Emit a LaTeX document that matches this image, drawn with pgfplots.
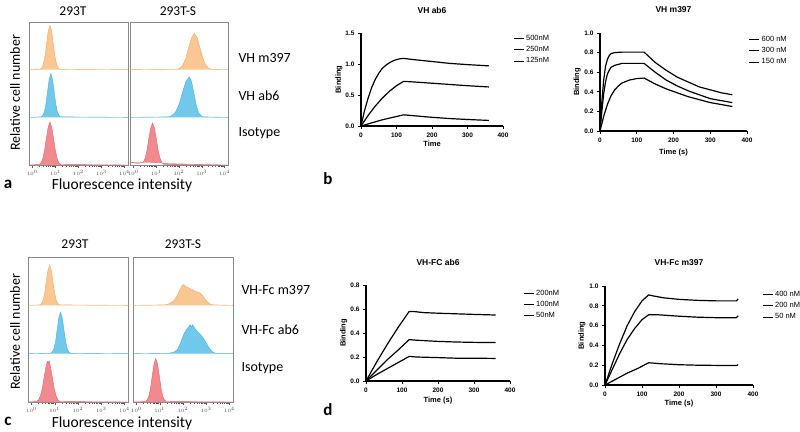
\documentclass[border=0pt]{standalone}
\usepackage{fontspec}
\setmainfont{Carlito}
\newfontfamily\arial{Liberation Sans}
\usepackage{pgfplots}
\pgfplotsset{compat=1.18}

\definecolor{orf}{RGB}{250,198,145}
\definecolor{ore}{RGB}{238,172,110}
\definecolor{blf}{RGB}{112,200,234}
\definecolor{ble}{RGB}{80,178,220}
\definecolor{rdf}{RGB}{240,138,142}
\definecolor{rde}{RGB}{222,100,110}
\definecolor{boxgray}{RGB}{135,135,135}

\pgfplotsset{
  histo/.style={scale only axis, height=143pt, xmin=-0.15, xmax=4.15, ymin=0, ymax=3,
    axis line style={draw=boxgray, line width=0.8pt}, ytick=\empty,
    xtick={0,1,2,3,4}, xticklabels={$10^0$,$10^1$,$10^2$,$10^3$,$10^4$},
    minor xtick={0.301,0.477,0.602,0.699,0.778,0.845,0.903,0.954,
                 1.301,1.477,1.602,1.699,1.778,1.845,1.903,1.954,
                 2.301,2.477,2.602,2.699,2.778,2.845,2.903,2.954,
                 3.301,3.477,3.602,3.699,3.778,3.845,3.903,3.954},
    xtick pos=bottom, tick align=outside, major tick length=3pt, minor tick length=1.5pt,
    tick style={black!65, line width=0.4pt},
    xticklabel style={font=\fontsize{3.5}{4}\selectfont, text=black!70, yshift=1pt},
    clip=false},
  hist/.style={fill=#1f, draw=#1e, line width=0.4pt},
  kin/.style={black, line width=1.2pt},
  bind/.style={scale only axis, axis x line=bottom, axis y line=left,
    axis line style={line width=1.1pt, -}, tick align=outside, major tick length=3pt,
    tick style={line width=1pt, black}, xmin=0, xmax=400, xtick={0,100,200,300,400}, ymin=0,
    /pgf/number format/assume math mode=true,
    ticklabel style={font=\arial\bfseries\fontsize{6.5}{7}\selectfont},
    yticklabel style={/pgf/number format/.cd, fixed, fixed zerofill, precision=1},
    label style={font=\arial\bfseries\fontsize{7.5}{8}\selectfont},
    title style={font=\arial\bfseries\fontsize{8.5}{9}\selectfont, at={(0.5,1)}, anchor=center, yshift=17pt},
    ylabel style={at={(axis description cs:-0.155,0.5)}, anchor=center, rotate=0},
    legend style={draw=none, fill=none, font=\arial\fontsize{7.5}{8}\selectfont, row sep=0.5pt, inner sep=0pt},
    legend cell align=left,
    legend image code/.code={\draw[black, line width=1pt] (0pt,0pt) -- (10pt,0pt);},
    clip=false}
}

\begin{document}
\begin{tikzpicture}
\useasboundingbox (0pt,0pt) rectangle (800pt,-431pt);

% ---------------- panel a ----------------
\begin{axis}[histo, width=99pt, at={(29pt,-165pt)}, anchor=south west]
\addplot[hist=or] table[y expr=\thisrowno{1}+2, row sep=\\] {x h\\
-0.15 0\\ 0.34 0.01\\ 0.41 0.04\\ 0.48 0.13\\ 0.55 0.30\\ 0.62 0.57\\ 0.69 0.82\\ 0.76 0.93\\
0.83 0.82\\ 0.90 0.57\\ 0.97 0.30\\ 1.04 0.13\\ 1.11 0.04\\ 1.18 0.01\\ 4.15 0\\};
\addplot[hist=bl] table[y expr=\thisrowno{1}+1, row sep=\\] {x h\\
-0.15 0\\ 0.38 0.01\\ 0.45 0.04\\ 0.52 0.12\\ 0.59 0.29\\ 0.66 0.56\\ 0.73 0.81\\ 0.80 0.92\\
0.87 0.81\\ 0.94 0.56\\ 1.01 0.29\\ 1.08 0.12\\ 1.15 0.04\\ 1.22 0.01\\ 4.15 0\\};
\addplot[hist=rd] table[y expr=\thisrowno{1}, row sep=\\] {x h\\
-0.15 0\\ 0.28 0.01\\ 0.36 0.04\\ 0.44 0.12\\ 0.52 0.29\\ 0.60 0.55\\ 0.68 0.79\\ 0.76 0.90\\
0.84 0.79\\ 0.92 0.55\\ 1.00 0.29\\ 1.08 0.12\\ 1.16 0.04\\ 1.24 0.01\\ 4.15 0\\};
\end{axis}

\begin{axis}[histo, width=98pt, at={(130pt,-165pt)}, anchor=south west]
\addplot[hist=or] table[y expr=\thisrowno{1}+2, row sep=\\] {x h\\
-0.15 0\\ 1.92 0.01\\ 2.05 0.03\\ 2.17 0.10\\ 2.30 0.24\\ 2.42 0.46\\ 2.55 0.67\\ 2.67 0.76\\
2.80 0.67\\ 2.92 0.46\\ 3.05 0.24\\ 3.17 0.10\\ 3.30 0.03\\ 3.42 0.01\\ 4.15 0\\};
\addplot[hist=bl] table[y expr=\thisrowno{1}+1, row sep=\\] {x h\\
-0.15 0\\ 1.55 0.01\\ 1.70 0.04\\ 1.85 0.11\\ 2.00 0.27\\ 2.15 0.52\\ 2.30 0.75\\ 2.45 0.85\\
2.55 0.75\\ 2.65 0.52\\ 2.75 0.27\\ 2.85 0.11\\ 2.95 0.04\\ 3.05 0.01\\ 4.15 0\\};
\addplot[hist=rd] table[y expr=\thisrowno{1}, row sep=\\] {x h\\
-0.15 0.06\\ -0.05 0.05\\ 0.10 0.04\\ 0.25 0.04\\ 0.415 0.05\\ 0.50 0.12\\ 0.585 0.28\\ 0.67 0.54\\
0.755 0.77\\ 0.84 0.88\\ 0.925 0.77\\ 1.01 0.54\\ 1.095 0.28\\ 1.18 0.12\\ 1.265 0.04\\ 1.35 0.01\\ 4.15 0\\};
\end{axis}

\node[font=\fontsize{13.5}{14}\selectfont] at (73pt,-11pt) {293T};
\node[font=\fontsize{13.5}{14}\selectfont] at (178pt,-11pt) {293T-S};
\node[font=\fontsize{14}{15}\selectfont, rotate=90] at (15pt,-93pt) {Relative cell number};
\node[font=\fontsize{15.5}{16}\selectfont] at (122pt,-185pt) {Fluorescence intensity};
\node[font=\fontsize{14}{15}\selectfont, anchor=west] at (235pt,-58pt) {VH m397};
\node[font=\fontsize{14}{15}\selectfont, anchor=west] at (235pt,-96pt) {VH ab6};
\node[font=\fontsize{14}{15}\selectfont, anchor=west] at (235pt,-133pt) {Isotype};
\node[font=\bfseries\fontsize{17}{18}\selectfont] at (8pt,-184pt) {a};

% ---------------- panel c ----------------
\begin{axis}[histo, width=100pt, height=145pt, at={(28pt,-402pt)}, anchor=south west]
\addplot[hist=or] table[y expr=\thisrowno{1}+2, row sep=\\] {x h\\
-0.15 0\\ 0.36 0.01\\ 0.43 0.04\\ 0.50 0.11\\ 0.57 0.27\\ 0.64 0.51\\ 0.71 0.73\\ 0.78 0.83\\
0.85 0.73\\ 0.92 0.51\\ 0.99 0.27\\ 1.06 0.11\\ 1.13 0.04\\ 1.20 0.01\\ 4.15 0\\};
\addplot[hist=bl] table[y expr=\thisrowno{1}+1, row sep=\\] {x h\\
-0.15 0\\ 0.83 0.01\\ 0.90 0.04\\ 0.97 0.11\\ 1.04 0.27\\ 1.11 0.52\\ 1.18 0.75\\ 1.25 0.86\\
1.32 0.75\\ 1.39 0.52\\ 1.46 0.27\\ 1.53 0.11\\ 1.60 0.04\\ 1.67 0.01\\ 4.15 0\\};
\addplot[hist=rd] table[y expr=\thisrowno{1}, row sep=\\] {x h\\
-0.15 0\\ 0.21 0.01\\ 0.295 0.04\\ 0.38 0.12\\ 0.465 0.28\\ 0.55 0.53\\ 0.635 0.76\\ 0.68 0.84\\ 0.72 0.82\\
0.76 0.85\\ 0.805 0.76\\ 0.89 0.53\\ 0.975 0.28\\ 1.06 0.12\\ 1.145 0.04\\ 1.23 0.01\\ 4.15 0\\};
\end{axis}

\begin{axis}[histo, width=100pt, height=145pt, at={(133pt,-402pt)}, anchor=south west]
\addplot[hist=or] table[y expr=\thisrowno{1}+2, row sep=\\] {x h\\
-0.15 0\\ 1.20 0.01\\ 1.40 0.03\\ 1.60 0.09\\ 1.75 0.20\\ 1.85 0.31\\ 1.95 0.40\\ 2.00 0.43\\
2.05 0.42\\ 2.15 0.38\\ 2.30 0.35\\ 2.45 0.31\\ 2.60 0.28\\ 2.75 0.25\\ 2.85 0.20\\ 2.95 0.13\\
3.05 0.07\\ 3.15 0.03\\ 3.30 0.01\\ 4.15 0\\};
\addplot[hist=bl] table[y expr=\thisrowno{1}+1, row sep=\\] {x h\\
-0.15 0\\ 1.40 0.01\\ 1.60 0.03\\ 1.75 0.08\\ 1.85 0.17\\ 1.95 0.30\\ 2.05 0.42\\ 2.15 0.50\\
2.25 0.56\\ 2.30 0.60\\ 2.36 0.55\\ 2.42 0.60\\ 2.50 0.53\\ 2.60 0.47\\ 2.70 0.42\\ 2.80 0.37\\
2.90 0.30\\ 3.00 0.22\\ 3.10 0.14\\ 3.20 0.07\\ 3.30 0.03\\ 3.45 0\\ 4.15 0\\};
\addplot[hist=rd] table[y expr=\thisrowno{1}, row sep=\\] {x h\\
-0.15 0\\ 0.38 0.01\\ 0.455 0.04\\ 0.53 0.12\\ 0.605 0.29\\ 0.68 0.55\\ 0.755 0.79\\ 0.83 0.90\\
0.905 0.79\\ 0.98 0.55\\ 1.055 0.29\\ 1.13 0.12\\ 1.205 0.04\\ 1.28 0.01\\ 4.15 0\\};
\end{axis}

\node[font=\fontsize{13.5}{14}\selectfont] at (75pt,-244pt) {293T};
\node[font=\fontsize{13.5}{14}\selectfont] at (183pt,-244pt) {293T-S};
\node[font=\fontsize{14}{15}\selectfont, rotate=90] at (15pt,-332pt) {Relative cell number};
\node[font=\fontsize{15.5}{16}\selectfont] at (122pt,-423pt) {Fluorescence intensity};
\node[font=\fontsize{14}{15}\selectfont, anchor=west] at (238pt,-290pt) {VH-Fc m397};
\node[font=\fontsize{14}{15}\selectfont, anchor=west] at (238pt,-330pt) {VH-Fc ab6};
\node[font=\fontsize{14}{15}\selectfont, anchor=west] at (238pt,-368pt) {Isotype};
\node[font=\bfseries\fontsize{17}{18}\selectfont] at (8pt,-421pt) {c};

% ---------------- panel b ----------------
\begin{axis}[bind, width=142pt, height=93pt, at={(361pt,-126pt)}, anchor=south west,
  ymax=1.5, ytick={0,0.5,1,1.5}, title={VH ab6}, xlabel={Time},
  xlabel style={at={(axis description cs:0.5,-0.19)}, anchor=center}, ylabel={Binding},
  legend style={at={(axis description cs:1.07,1.0)}, anchor=north west}]
\addplot[kin] coordinates {(0,0) (10,0.25) (20,0.45) (30,0.62) (40,0.75) (50,0.85) (60,0.93) (70,0.98)
  (80,1.02) (90,1.05) (100,1.07) (110,1.085) (120,1.09) (150,1.07) (200,1.04) (250,1.01) (300,0.99) (360,0.97)};
\addplot[kin] coordinates {(0,0) (20,0.17) (40,0.32) (60,0.45) (80,0.56) (100,0.65) (120,0.72) (150,0.71)
  (200,0.69) (250,0.67) (300,0.65) (360,0.63)};
\addplot[kin] coordinates {(0,0) (30,0.05) (60,0.10) (90,0.14) (120,0.18) (150,0.165) (200,0.14) (250,0.12)
  (300,0.105) (360,0.09)};
\legend{500nM, 250nM, 125nM}
\end{axis}

\begin{axis}[bind, width=147pt, height=98pt, at={(600pt,-131pt)}, anchor=south west,
  ymax=1.0, ytick={0,0.2,0.4,0.6,0.8,1.0}, title={VH m397}, xlabel={Time (s)},
  xlabel style={at={(axis description cs:0.5,-0.22)}, anchor=center}, ylabel={Binding},
  legend style={at={(axis description cs:1.01,0.99)}, anchor=north west}]
\addplot[kin] coordinates {(0,0) (5,0.30) (10,0.52) (15,0.66) (20,0.73) (25,0.77) (30,0.79) (40,0.80)
  (60,0.805) (120,0.805) (130,0.77) (150,0.70) (180,0.62) (210,0.55) (240,0.50) (270,0.45)
  (300,0.42) (330,0.39) (360,0.37)};
\addplot[kin] coordinates {(0,0) (5,0.20) (10,0.38) (15,0.50) (20,0.58) (25,0.62) (30,0.65) (40,0.67)
  (50,0.68) (60,0.69) (120,0.69) (130,0.66) (150,0.60) (180,0.52) (210,0.46) (240,0.41)
  (270,0.37) (300,0.33) (330,0.31) (360,0.29)};
\addplot[kin] coordinates {(0,0) (10,0.15) (20,0.27) (30,0.36) (40,0.42) (50,0.46) (60,0.49) (80,0.52)
  (100,0.535) (120,0.54) (130,0.52) (150,0.48) (180,0.43) (210,0.39) (240,0.35) (270,0.32)
  (300,0.29) (330,0.27) (360,0.25)};
\legend{600 nM, 300 nM, 150 nM}
\end{axis}
\node[font=\bfseries\fontsize{17}{18}\selectfont] at (328pt,-179pt) {b};

% ---------------- panel d ----------------
\begin{axis}[bind, width=144pt, height=96pt, at={(366pt,-381pt)}, anchor=south west,
  ymax=0.8, ytick={0,0.2,0.4,0.6,0.8}, title={VH-FC ab6}, xlabel={Time (s)},
  xlabel style={at={(axis description cs:0.5,-0.2)}, anchor=center}, ylabel={Binding},
  legend style={at={(axis description cs:1.09,0.97)}, anchor=north west}]
\addplot[kin] coordinates {(0,0) (30,0.16) (60,0.31) (90,0.45) (120,0.58) (130,0.58) (160,0.57)
  (200,0.565) (250,0.56) (300,0.555) (360,0.55)};
\addplot[kin] coordinates {(0,0) (30,0.09) (60,0.18) (90,0.26) (120,0.345) (140,0.34) (200,0.33)
  (250,0.325) (300,0.322) (360,0.32)};
\addplot[kin] coordinates {(0,0) (30,0.055) (60,0.105) (90,0.155) (120,0.205) (140,0.20) (200,0.195)
  (250,0.19) (300,0.19) (360,0.188)};
\legend{200nM, 100nM, 50nM}
\end{axis}

\begin{axis}[bind, width=148pt, height=99pt, at={(605pt,-385pt)}, anchor=south west,
  ymax=1.0, ytick={0,0.2,0.4,0.6,0.8,1.0}, title={VH-Fc m397}, xlabel={Time (s)},
  xlabel style={at={(axis description cs:0.5,-0.19)}, anchor=center}, ylabel={Binding},
  legend style={at={(axis description cs:1.06,0.97)}, anchor=north west}]
\addplot[kin] coordinates {(0,0) (20,0.22) (40,0.42) (60,0.60) (80,0.74) (100,0.85) (118,0.91) (130,0.90)
  (160,0.88) (200,0.865) (250,0.855) (300,0.85) (355,0.85) (360,0.87)};
\addplot[kin] coordinates {(0,0) (20,0.16) (40,0.32) (60,0.46) (80,0.57) (100,0.66) (118,0.71) (140,0.71)
  (200,0.695) (250,0.685) (300,0.68) (355,0.68) (360,0.70)};
\addplot[kin] coordinates {(0,0) (30,0.06) (60,0.12) (90,0.17) (118,0.225) (150,0.215) (200,0.205)
  (250,0.20) (300,0.198) (355,0.197) (360,0.205)};
\legend{400 nM, 200 nM, 50 nM}
\end{axis}
\node[font=\bfseries\fontsize{17}{18}\selectfont] at (328pt,-410pt) {d};
\end{tikzpicture}
\end{document}
